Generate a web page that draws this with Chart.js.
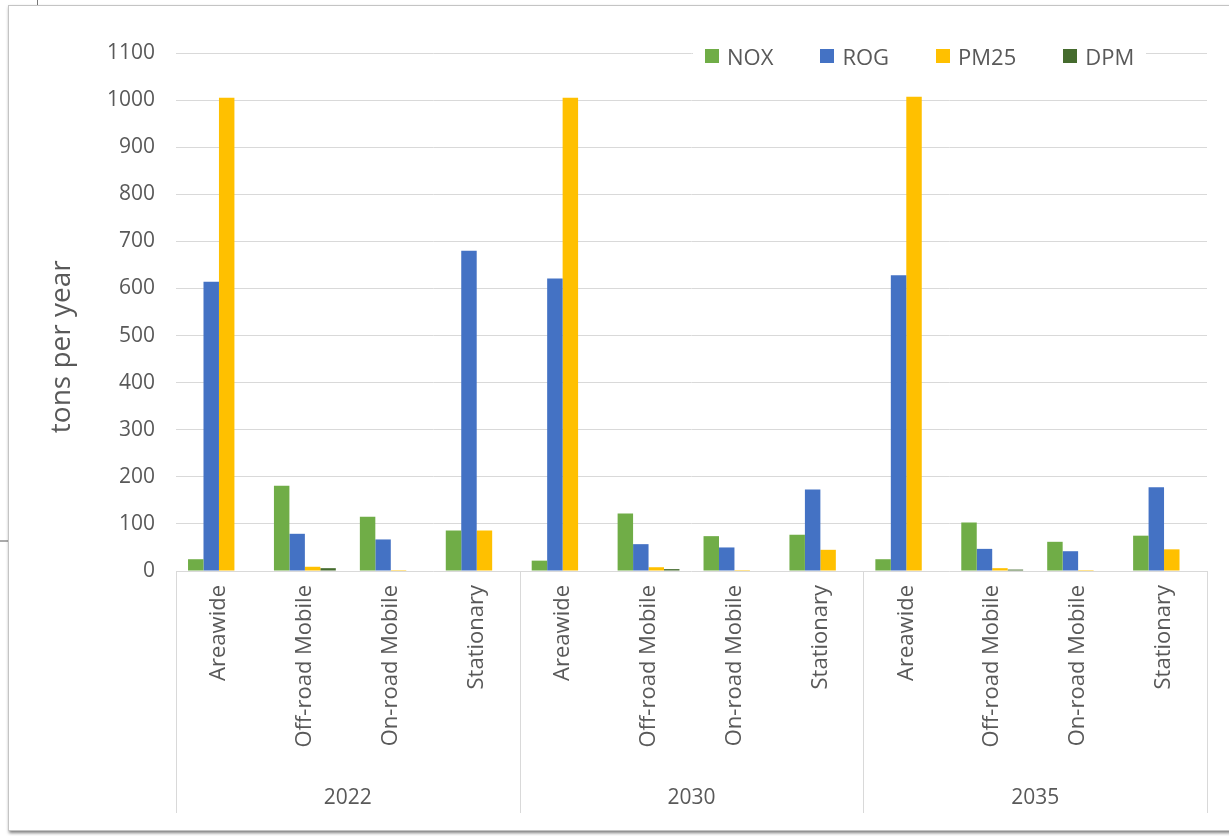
<!DOCTYPE html>
<html>
<head>
<meta charset="utf-8">
<title>Emissions by source</title>
<script src="https://cdn.jsdelivr.net/npm/chart.js@4.4.1/dist/chart.umd.min.js"></script>
<style>
  html, body { margin: 0; padding: 0; width: 1229px; height: 836px; overflow: hidden; background: #fff; font-family: "Open Sans", sans-serif; }
  .card { position: absolute; left: 8px; top: 5px; width: 1300px; height: 824px; background: #fff; border: 1px solid #c4c4c4; box-shadow: 1px 2px 3px rgba(0,0,0,0.5); }
  .stub-v { position: absolute; left: 37px; top: 0; width: 1px; height: 5px; background: #777; }
  .stub-h { position: absolute; left: 0; top: 540px; width: 8px; height: 2px; background: #aaa; }
  #chart { position: absolute; left: 0; top: 0; }
  #legend { position: absolute; top: 43px; left: 693px; display: flex; gap: 47px; background: #fff; padding: 0 12px; font-size: 22px; line-height: 26px; color: #595959; }
  #legend span.item { display: flex; align-items: center; }
  #legend i { display: inline-block; width: 14px; height: 14px; margin-right: 8px; }
</style>
</head>
<body>
<div class="stub-v"></div>
<div class="stub-h"></div>
<div class="card"></div>
<canvas id="chart" width="1229" height="836"></canvas>
<div id="legend"></div>
<script>
// tons per year by source, for each forecast year
const years = ["2022", "2030", "2035"];
const sources = ["Areawide", "Off-road Mobile", "On-road Mobile", "Stationary"];
const yTicks = [0, 100, 200, 300, 400, 500, 600, 700, 800, 900, 1000, 1100];

const nox  = [25, 181, 115, 86,   22, 122, 74, 77,    25, 103, 62, 75];
const rog  = [614, 79, 67, 680,   621, 57, 50, 173,   628, 47, 42, 178];
const pm25 = [1005, 9, 2, 86,     1005, 8, 2, 45,     1007, 6, 2, 46];
const dpm  = [0, 6, 0, 0,         0, 4, 0, 0,         0, 3, 0, 0];

const seriesNames = ["NOX", "ROG", "PM25", "DPM"];
const seriesColors = ["#70AD47", "#4472C4", "#FFC000", "#456B2E"];

const labels = years.flatMap(() => sources);
const textColor = "#595959";
const gridColor = "#d9d9d9";
const tickFont = { family: "Open Sans", size: 21 };

const datasets = [nox, rog, pm25, dpm].map((data, i) => ({
  label: seriesNames[i],
  data: data,
  backgroundColor: seriesColors[i],
  borderWidth: 0,
  categoryPercentage: 0.72,
  barPercentage: 1.0
}));

// separators between source groups and the rotated y title
const groupLines = {
  id: "groupLines",
  afterDraw(chart) {
    const { ctx, chartArea, scales: { x, x2 } } = chart;
    const step = x.getPixelForTick(1) - x.getPixelForTick(0);
    ctx.save();
    ctx.strokeStyle = gridColor;
    ctx.lineWidth = 1;
    for (let g = 0; g <= years.length; g++) {
      const px = g < years.length ? x.getPixelForTick(g * sources.length) - step / 2 : x.right;
      const sx = Math.round(px) + 0.5;
      ctx.beginPath();
      ctx.moveTo(sx, chartArea.bottom);
      ctx.lineTo(sx, x2.bottom);
      ctx.stroke();
    }
    ctx.translate(62, chartArea.top + (chartArea.bottom - chartArea.top) * 0.567);
    ctx.rotate(-Math.PI / 2);
    ctx.fillStyle = textColor;
    ctx.font = '28px "Open Sans", sans-serif';
    ctx.textAlign = "center";
    ctx.textBaseline = "middle";
    ctx.fillText("tons per year", 0, 0);
    ctx.restore();
  }
};

new Chart(document.getElementById("chart"), {
  type: "bar",
  data: { labels: labels, datasets: datasets },
  plugins: [groupLines],
  options: {
    responsive: false,
    animation: false,
    layout: { padding: { left: 0, top: 53, right: 22, bottom: 23 } },
    plugins: { legend: { display: false }, tooltip: { enabled: false } },
    scales: {
      y: {
        min: 0,
        max: 1100,
        afterFit: (s) => { s.width = 176; },
        afterBuildTicks: (s) => { s.ticks = yTicks.map(v => ({ value: v })); },
        border: { display: false },
        grid: { color: gridColor, lineWidth: 1, drawTicks: false },
        ticks: { padding: 21, color: textColor, font: tickFont, callback: (v) => String(v) }
      },
      x: {
        afterFit: (s) => { s.height = 200; },
        border: { display: false },
        grid: { display: false },
        ticks: {
          autoSkip: false, minRotation: 90, maxRotation: 90, padding: 6,
          color: textColor, font: { family: "Open Sans", size: 22 }
        }
      },
      x2: {
        type: "category",
        labels: years,
        position: "bottom",
        offset: true,
        weight: 1,
        afterFit: (s) => { s.height = 42; },
        border: { display: false },
        grid: { display: false },
        ticks: { padding: 6, color: textColor, font: tickFont }
      }
    }
  }
});

const legend = document.getElementById("legend");
seriesNames.forEach((name, i) => {
  const item = document.createElement("span");
  item.className = "item";
  const box = document.createElement("i");
  box.style.background = seriesColors[i];
  item.appendChild(box);
  item.appendChild(document.createTextNode(name));
  legend.appendChild(item);
});
</script>
</body>
</html>
